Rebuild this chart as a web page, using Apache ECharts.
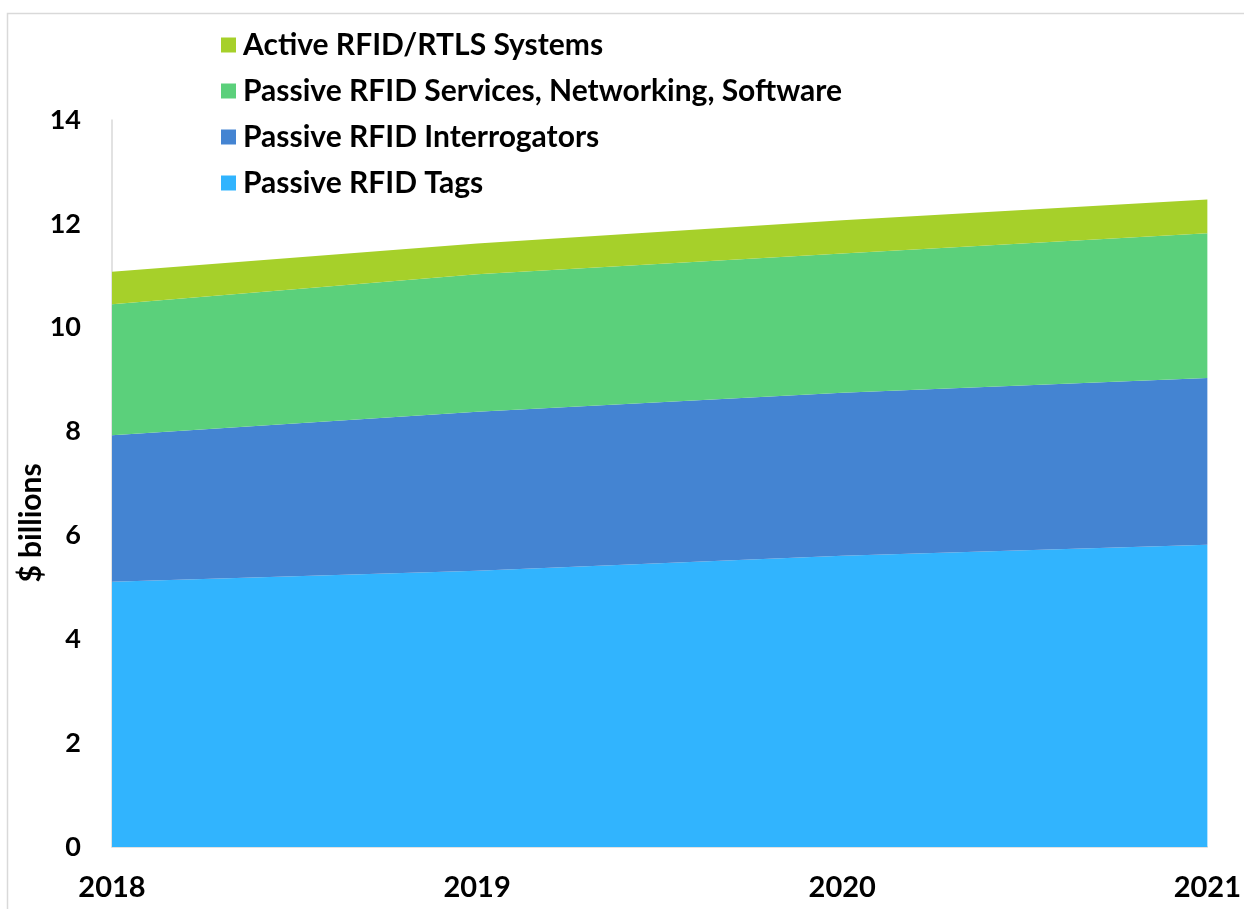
<!DOCTYPE html>
<html>
<head>
<meta charset="utf-8">
<script src="https://cdn.jsdelivr.net/npm/echarts@6/dist/echarts.min.js"></script>
<style>html,body{margin:0;padding:0;background:#fff;}#c{width:1244px;height:909px;}</style>
</head>
<body>
<div id="c"></div>
<script>
const categories = ['2018', '2019', '2020', '2021'];
const tags = [5.11, 5.32, 5.61, 5.82];
const interrogators = [2.82, 3.06, 3.14, 3.21];
const services = [2.52, 2.65, 2.68, 2.79];
const active = [0.63, 0.59, 0.64, 0.65];
const yTicks = [0, 2, 4, 6, 8, 10, 12, 14];

const FONT = 'Lato, "Open Sans", sans-serif';
const chart = echarts.init(document.getElementById('c'));
function area(name, data, color) {
  return {
    name, type: 'line', stack: 'total', data,
    symbol: 'none', smooth: false,
    lineStyle: { width: 0 },
    areaStyle: { color, opacity: 1 },
    itemStyle: { color },
    emphasis: { disabled: true }
  };
}
chart.setOption({
  animation: false,
  backgroundColor: '#fff',
  grid: { left: 112, right: 35, top: 120, bottom: 62 },
  legend: {
    orient: 'vertical', left: 216, top: 25,
    itemWidth: 15, itemHeight: 15, itemGap: 16,
    icon: 'rect',
    data: ['Active RFID/RTLS Systems', 'Passive RFID Services, Networking, Software', 'Passive RFID Interrogators', 'Passive RFID Tags'],
    textStyle: { fontFamily: FONT, fontWeight: 'bold', fontSize: 30, color: '#000', lineHeight: 30, padding: [0, 0, 0, 2] }
  },
  xAxis: {
    type: 'category', data: categories, boundaryGap: false,
    axisLine: { lineStyle: { color: '#d9d9d9', width: 1.5 } },
    axisTick: { show: false },
    axisLabel: { fontFamily: FONT, fontWeight: 'bold', fontSize: 29, color: '#000', margin: 26 }
  },
  yAxis: {
    type: 'value', min: yTicks[0], max: yTicks[yTicks.length - 1], interval: 2,
    axisLine: { show: true, lineStyle: { color: '#d9d9d9', width: 1.5 } },
    axisTick: { show: false },
    splitLine: { show: false },
    axisLabel: { fontFamily: FONT, fontWeight: 'bold', fontSize: 27, color: '#000', margin: 31 }
  },
  graphic: [
    { type: 'rect', left: 5, top: 11, silent: true, z: -1,
      shape: { width: 1260, height: 920 },
      style: { fill: 'none', stroke: '#d9d9d9', lineWidth: 1.5 } },
    { type: 'text', x: 31, y: 523, rotation: Math.PI / 2, silent: true,
      style: { text: '$ billions', fontFamily: FONT, fontWeight: 'bold', fontSize: 30, fill: '#000', align: 'center', verticalAlign: 'middle' } }
  ],
  series: [
    area('Passive RFID Tags', tags, '#31b4fe'),
    area('Passive RFID Interrogators', interrogators, '#4484d2'),
    area('Passive RFID Services, Networking, Software', services, '#5bd07b'),
    area('Active RFID/RTLS Systems', active, '#a6d02a')
  ]
});
</script>
</body>
</html>
